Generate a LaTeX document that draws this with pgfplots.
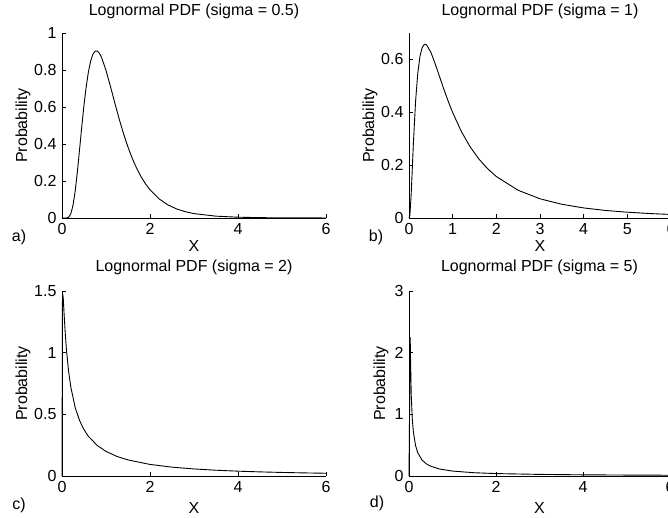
\documentclass[border=0pt]{standalone}
\usepackage{fontspec}
\setmainfont{Liberation Sans}
\usepackage{pgfplots}
\pgfplotsset{compat=1.18}

\pgfplotsset{
  lnpanel/.style={
    scale only axis,
    anchor=south west,
    axis x line*=bottom,
    axis y line*=left,
    axis line style={black, line width=0.8pt, -},
    tick align=inside,
    major tick length=4pt,
    tick style={black, line width=0.6pt},
    xmin=0, xmax=6, ymin=0,
    height=185pt,
    clip=false,
    /pgf/number format/assume math mode=true,
    ylabel={Probability},
    xlabel={X},
    title style={anchor=center},
    ylabel style={anchor=center},
    xlabel style={anchor=center},
  },
  curve/.style={black, line width=0.9pt, no marks},
}

\begin{document}
\fontsize{16}{19}\selectfont
\begin{tikzpicture}
\useasboundingbox (0,0) rectangle (668pt,517pt);

% a) sigma = 0.5
\begin{axis}[lnpanel,
  at={(62pt,299pt)}, width=264pt,
  ymax=1, ytick={0,0.2,0.4,0.6,0.8,1}, xtick={0,2,4,6},
  title={Lognormal PDF (sigma = 0.5)},
  title style={at={(axis description cs:0.5,1.084)}},
  ylabel style={at={(axis description cs:-0.148,0.5)}},
  xlabel style={at={(axis description cs:0.5,-0.150)}},
]
\addplot[curve] coordinates {
(0,0) (0.05,0) (0.1,0.0002) (0.15,0.0040) (0.2,0.0225) (0.25,0.0684)
(0.3,0.1465) (0.35,0.2515) (0.4,0.3720) (0.45,0.4954) (0.5,0.6104)
(0.55,0.7099) (0.6,0.7891) (0.65,0.8469) (0.7,0.8838) (0.75,0.9015)
(0.8,0.9028) (0.85,0.8905) (0.9,0.8671) (1.0,0.7979) (1.1,0.7123)
(1.2,0.6222) (1.3,0.5349) (1.4,0.4545) (1.5,0.3829) (1.6,0.3206)
(1.7,0.2673) (1.8,0.2221) (1.9,0.1842) (2.0,0.1526) (2.2,0.1046)
(2.4,0.0718) (2.6,0.0494) (2.8,0.0342) (3.0,0.0238) (3.5,0.0099)
(4.0,0.0043) (4.5,0.0019) (5.0,0.0009) (6.0,0.0002)
};
\end{axis}

% b) sigma = 1
\begin{axis}[lnpanel,
  at={(409pt,299pt)}, width=262pt,
  ymax=0.7, ytick={0,0.2,0.4,0.6}, xtick={0,1,2,3,4,5,6},
  title={Lognormal PDF (sigma = 1)},
  title style={at={(axis description cs:0.5,1.084)}},
  ylabel style={at={(axis description cs:-0.149,0.5)}},
  xlabel style={at={(axis description cs:0.5,-0.150)}},
]
\addplot[curve] coordinates {
(0,0) (0.02,0.0095) (0.05,0.0898) (0.1,0.2816) (0.15,0.4399) (0.2,0.5462)
(0.25,0.6104) (0.3,0.6442) (0.35,0.6570) (0.4,0.6555) (0.5,0.6275)
(0.6,0.5836) (0.7,0.5348) (0.8,0.4864) (0.9,0.4408) (1.0,0.3989)
(1.2,0.3270) (1.4,0.2693) (1.6,0.2233) (1.8,0.1865) (2.0,0.1569)
(2.5,0.1049) (3.0,0.0727) (3.5,0.0520) (4.0,0.0381) (4.5,0.0286)
(5.0,0.0219) (5.5,0.0170) (6.0,0.0134)
};
\end{axis}

% c) sigma = 2
\begin{axis}[lnpanel,
  at={(62pt,41pt)}, width=264pt,
  ymax=1.5, ytick={0,0.5,1,1.5}, xtick={0,2,4,6},
  title={Lognormal PDF (sigma = 2)},
  title style={at={(axis description cs:0.5,1.095)}},
  ylabel style={at={(axis description cs:-0.148,0.5)}},
  xlabel style={at={(axis description cs:0.5,-0.172)}},
]
\addplot[curve] coordinates {
(0,0) (0.01,1.408) (0.02,1.473) (0.03,1.429) (0.05,1.299) (0.075,1.150)
(0.1,1.028) (0.15,0.848) (0.2,0.7215) (0.3,0.5547) (0.4,0.4490)
(0.5,0.3757) (0.6,0.3218) (0.8,0.2478) (1.0,0.1995) (1.25,0.1586)
(1.5,0.1303) (2.0,0.0939) (2.5,0.0718) (3.0,0.0572) (3.5,0.0468)
(4.0,0.0392) (4.5,0.0334) (5.0,0.0289) (5.5,0.0252) (6.0,0.0223)
};
\end{axis}

% d) sigma = 5
\begin{axis}[lnpanel,
  at={(409pt,41pt)}, width=261pt,
  ymax=3, ytick={0,1,2,3}, xtick={0,2,4,6},
  title={Lognormal PDF (sigma = 5)},
  title style={at={(axis description cs:0.5,1.095)}},
  ylabel style={at={(axis description cs:-0.107,0.5)}},
  xlabel style={at={(axis description cs:0.5,-0.172)}},
]
\addplot[curve] coordinates {
(0,0) (0.027,2.25) (0.05,1.334) (0.075,0.930) (0.1,0.7176) (0.15,0.4950)
(0.2,0.3788) (0.3,0.2584) (0.4,0.1961) (0.5,0.1581) (0.7,0.1137)
(1.0,0.0798) (1.5,0.0530) (2.0,0.0395) (3.0,0.0260) (4.0,0.0192)
(5.0,0.0152) (6.0,0.0125)
};
\end{axis}

\node at (19pt,280pt) {a)};
\node at (376pt,280pt) {b)};
\node at (19pt,12pt) {c)};
\node at (377pt,14pt) {d)};
\end{tikzpicture}
\end{document}
